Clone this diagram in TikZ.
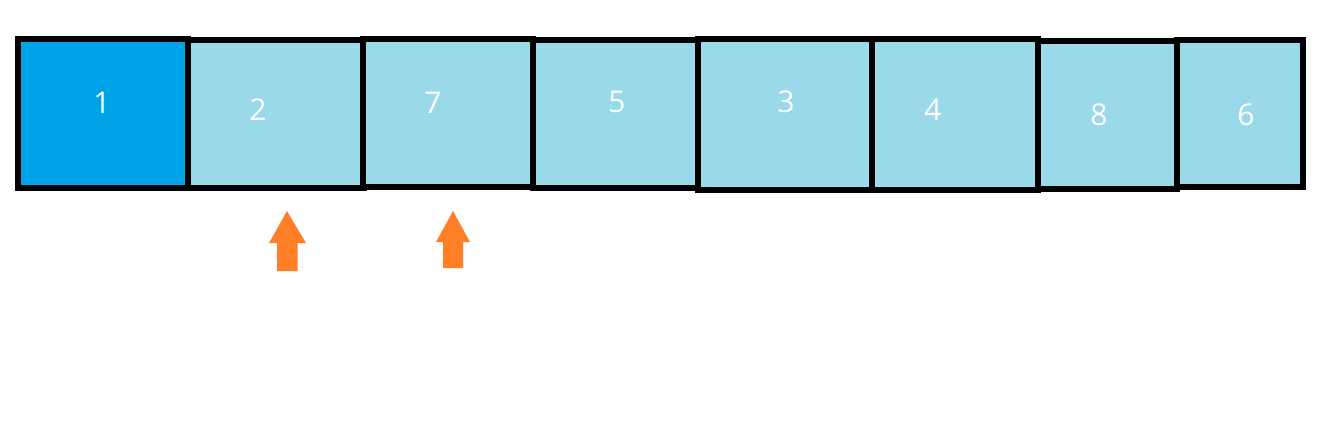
\documentclass[tikz,border=0pt]{standalone}
\usepackage{fontspec}
\setmainfont{Open Sans}
\definecolor{dark}{HTML}{00A2E8}
\definecolor{light}{HTML}{99D9EA}
\definecolor{arr}{HTML}{FF7F27}
\tikzset{
  cell/.style={draw=black, line width=6pt},
  num/.style={text=white, font=\fontsize{30}{36}\selectfont, inner sep=0pt},
  uparrow/.style={fill=arr, draw=none}
}
\begin{document}
\begin{tikzpicture}[x=1pt,y=-1pt]
\useasboundingbox[fill=white] (0,0) rectangle (1327,424);
% cells
\draw[cell, fill=dark]  (18,39)   rectangle (188,188);
\draw[cell, fill=light] (188,39.5) rectangle (363.5,188);
\draw[cell, fill=light] (363,39)  rectangle (533,187);
\draw[cell, fill=light] (533,40)  rectangle (697.5,188);
\draw[cell, fill=light] (697.5,39) rectangle (872,189.5);
\draw[cell, fill=light] (872,38.5) rectangle (1038,189.5);
\draw[cell, fill=light] (1038,40.5) rectangle (1177,189);
\draw[cell, fill=light] (1177,39.5) rectangle (1303,187);
% labels
\node[num] (n1) at (102,103) {1};
\node[num] (n2) at (258,110) {2};
\node[num] (n7) at (433,103) {7};
\node[num] (n5) at (617,102) {5};
\node[num] (n3) at (786,102) {3};
\node[num] (n4) at (933,110) {4};
\node[num] (n8) at (1099,115) {8};
\node[num] (n6) at (1246,115) {6};
% arrows
\fill[uparrow] (287,211) -- (306,243) -- (297.5,243) -- (297.5,271) -- (277,271) -- (277,243) -- (269,243) -- cycle;
\fill[uparrow] (453,211) -- (470,242) -- (463,242) -- (463,268) -- (443,268) -- (443,242) -- (436,242) -- cycle;
\end{tikzpicture}
\end{document}
